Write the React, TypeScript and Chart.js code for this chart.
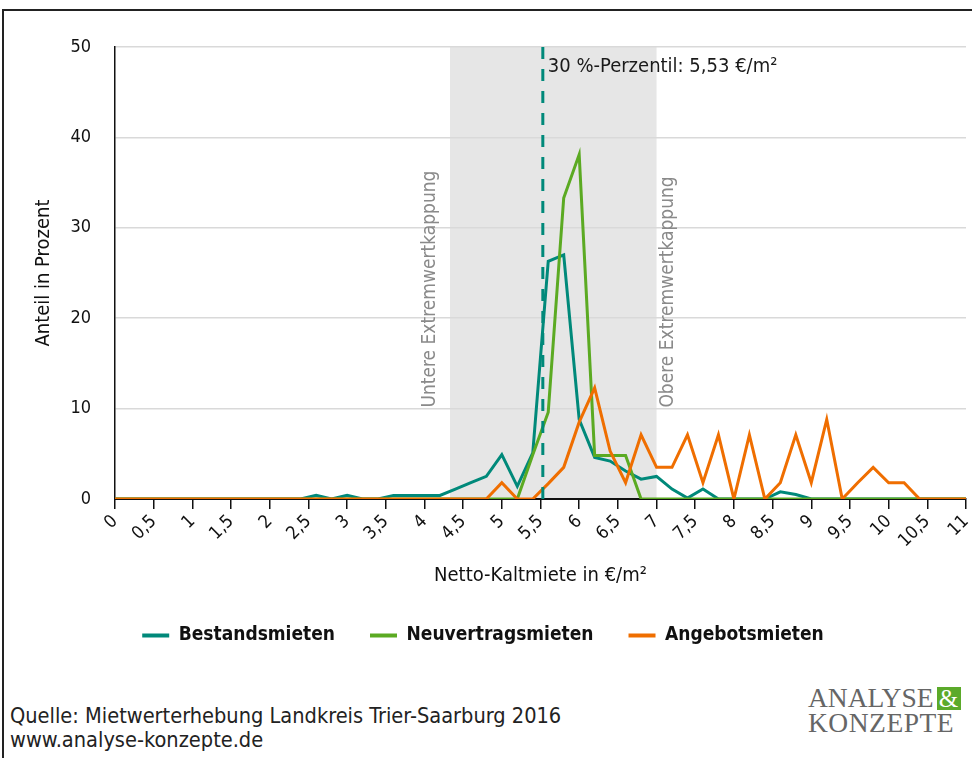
import React, { useEffect, useRef } from 'react';
import { Chart, registerables } from 'chart.js';

Chart.register(...registerables);

// ---- data ----
const rents = [
  0, 0.2, 0.4, 0.6, 0.8, 1, 1.2, 1.4, 1.6, 1.8, 2, 2.2, 2.4, 2.6, 2.8, 3, 3.2, 3.4, 3.6, 3.8,
  4, 4.2, 4.4, 4.6, 4.8, 5, 5.2, 5.4, 5.6, 5.8, 6, 6.2, 6.4, 6.6, 6.8, 7, 7.2, 7.4, 7.6, 7.8,
  8, 8.2, 8.4, 8.6, 8.8, 9, 9.2, 9.4, 9.6, 9.8, 10, 10.2, 10.4, 10.6, 10.8, 11,
];
const bestandsmieten = [
  0, 0, 0, 0, 0, 0, 0, 0, 0, 0, 0, 0, 0, 0.4, 0, 0.4, 0, 0, 0.4, 0.4,
  0.4, 0.4, 1.1, 1.8, 2.5, 4.9, 1.4, 5.1, 26.3, 27.0, 8.8, 4.6, 4.2, 3.1, 2.2, 2.5, 1.1, 0.1, 1.1, 0,
  0, 0, 0, 0.8, 0.5, 0, 0, 0, 0, 0, 0, 0, 0, 0, 0, 0,
];
const neuvertragsmieten = [
  0, 0, 0, 0, 0, 0, 0, 0, 0, 0, 0, 0, 0, 0, 0, 0, 0, 0, 0, 0,
  0, 0, 0, 0, 0, 0, 0, 4.9, 9.6, 33.3, 38.1, 4.8, 4.8, 4.8, 0, 0, 0, 0, 0, 0,
  0, 0, 0, 0, 0, 0, 0, 0, 0, 0, 0, 0, 0, 0, 0, 0,
];
const angebotsmieten = [
  0, 0, 0, 0, 0, 0, 0, 0, 0, 0, 0, 0, 0, 0, 0, 0, 0, 0, 0, 0,
  0, 0, 0, 0, 0, 1.8, 0, 0, 1.7, 3.5, 8.5, 12.3, 5.3, 1.8, 7.1, 3.5, 3.5, 7.1, 1.8, 7.1,
  0, 7.1, 0, 1.8, 7.1, 1.8, 8.8, 0, 1.8, 3.5, 1.8, 1.8, 0, 0, 0, 0,
];
const seriesNames = ['Bestandsmieten', 'Neuvertragsmieten', 'Angebotsmieten'];
const xTickValues = [0, 0.5, 1, 1.5, 2, 2.5, 3, 3.5, 4, 4.5, 5, 5.5, 6, 6.5, 7, 7.5, 8, 8.5, 9, 9.5, 10, 10.5, 11];
const xTickLabels = ['0', '0,5', '1', '1,5', '2', '2,5', '3', '3,5', '4', '4,5', '5', '5,5', '6', '6,5', '7', '7,5', '8', '8,5', '9', '9,5', '10', '10,5', '11'];
const yTickValues = [0, 10, 20, 30, 40, 50];
const percentile = 5.53;
const percentileLabel = '30 %-Perzentil: 5,53 €/m²';
const lowerCap = 4.33;
const upperCap = 7.0;
const lowerCapLabel = 'Untere Extremwertkappung';
const upperCapLabel = 'Obere Extremwertkappung';
const capLabelStart = 10;
const xTitle = 'Netto-Kaltmiete in €/m²';
const yTitle = 'Anteil in Prozent';
const sourceLines = ['Quelle: Mietwerterhebung Landkreis Trier-Saarburg 2016', 'www.analyse-konzepte.de'];

const TEAL = '#00897A';
const GREEN = '#5BAA22';
const ORANGE = '#EF6E00';
const FONT = '"DejaVu Sans Condensed", "DejaVu Sans", Verdana, sans-serif';

const annotationPlugin = {
  id: 'rentAnnotations',
  beforeDraw(chart: any) {
    const { ctx, chartArea, scales } = chart;
    const x0 = scales.x.getPixelForValue(lowerCap);
    const x1 = scales.x.getPixelForValue(upperCap);
    ctx.save();
    ctx.fillStyle = '#E6E6E6';
    ctx.fillRect(x0, chartArea.top, x1 - x0, chartArea.bottom - chartArea.top);
    ctx.restore();
  },
  afterDatasetsDraw(chart: any) {
    const { ctx, chartArea, scales } = chart;
    const xs = scales.x;
    const ys = scales.y;
    ctx.save();
    const px = xs.getPixelForValue(percentile);
    ctx.strokeStyle = TEAL;
    ctx.lineWidth = 3;
    ctx.setLineDash([12, 10]);
    ctx.beginPath();
    ctx.moveTo(px, chartArea.top);
    ctx.lineTo(px, chartArea.bottom);
    ctx.stroke();
    ctx.setLineDash([]);
    ctx.fillStyle = '#1a1a1a';
    ctx.font = '20px ' + FONT;
    ctx.textAlign = 'left';
    ctx.textBaseline = 'middle';
    ctx.fillText(percentileLabel, px + 5, chartArea.top + 20);
    ctx.fillStyle = '#8a8a8a';
    ctx.font = '19px ' + FONT;
    ctx.textBaseline = 'alphabetic';
    const yStart = ys.getPixelForValue(capLabelStart) - 1;
    ctx.save();
    ctx.translate(xs.getPixelForValue(lowerCap) - 15, yStart);
    ctx.rotate(-Math.PI / 2);
    ctx.fillText(lowerCapLabel, 0, 0);
    ctx.restore();
    ctx.save();
    ctx.translate(xs.getPixelForValue(upperCap) + 16, yStart);
    ctx.rotate(-Math.PI / 2);
    ctx.fillText(upperCapLabel, 0, 0);
    ctx.restore();
    ctx.restore();
  },
};

export default function App() {
  const canvasRef = useRef<HTMLCanvasElement | null>(null);

  useEffect(() => {
    document.body.style.overflow = 'hidden';
    const canvas = canvasRef.current;
    if (!canvas) return;
    Chart.defaults.font.family = FONT;
    Chart.defaults.color = '#1a1a1a';
    const mk = (arr: number[]) => arr.map((v, i) => ({ x: rents[i], y: v }));
    const colors = [TEAL, GREEN, ORANGE];
    const values = [bestandsmieten, neuvertragsmieten, angebotsmieten];
    const chart = new Chart(canvas, {
      type: 'line',
      data: {
        datasets: seriesNames.map((name, i) => ({
          label: name,
          data: mk(values[i]),
          borderColor: colors[i],
          backgroundColor: colors[i],
          borderWidth: 3,
          pointRadius: 0,
          tension: 0,
          borderJoinStyle: 'miter' as const,
          order: 3 - i,
        })),
      },
      options: {
        responsive: false,
        animation: false,
        devicePixelRatio: 1,
        layout: { padding: { top: 47, right: 6, left: 0, bottom: 9 } },
        plugins: {
          tooltip: { enabled: false },
          legend: {
            position: 'bottom',
            labels: {
              boxWidth: 27,
              boxHeight: 4,
              padding: 35,
              color: '#111',
              font: { size: 19, weight: 'bold', family: FONT },
              sort: (a: any, b: any) => a.datasetIndex - b.datasetIndex,
              generateLabels: (ch: any) =>
                (Chart.defaults.plugins.legend.labels.generateLabels as any)(ch).map((l: any) => ({ ...l, lineWidth: 0 })),
            },
          },
        },
        scales: {
          x: {
            type: 'linear',
            min: 0,
            max: 11,
            afterFit: (s: any) => { s.height = 92; s.paddingRight = 0; },
            afterBuildTicks: (s: any) => { s.ticks = xTickValues.map((v) => ({ value: v })); },
            ticks: {
              autoSkip: false,
              minRotation: 45,
              maxRotation: 45,
              padding: 2,
              color: '#111',
              font: { size: 18 },
              callback: (v: any) => xTickLabels[xTickValues.indexOf(Number(v))] ?? '',
            },
            grid: { drawOnChartArea: false, drawTicks: true, tickLength: 10, color: '#111', lineWidth: 1.5 },
            border: { color: '#111', width: 2 },
            title: { display: true, text: xTitle, color: '#111', font: { size: 20 }, padding: { top: 0, bottom: 3 } },
          },
          y: {
            type: 'linear',
            min: 0,
            max: 50,
            afterFit: (s: any) => { s.width = 115; },
            afterBuildTicks: (s: any) => { s.ticks = yTickValues.map((v) => ({ value: v })); },
            ticks: { padding: 24, color: '#111', font: { size: 18 } },
            grid: { drawTicks: false, color: '#D9D9D9', lineWidth: 1.5 },
            border: { color: '#111', width: 1.5 },
            title: { display: true, text: yTitle, color: '#111', font: { size: 20 }, padding: { top: 32, bottom: 0 } },
          },
        },
      },
      plugins: [annotationPlugin],
    });
    return () => chart.destroy();
  }, []);

  return (
    <div style={{ position: 'fixed', left: 0, top: 0, width: 972, height: 758, overflow: 'hidden', background: '#fff' }}>
      <div
        style={{
          position: 'absolute', left: 2, top: 9, width: 980, height: 760,
          borderLeft: '2px solid #222', borderTop: '2px solid #222',
        }}
      />
      <canvas ref={canvasRef} width={972} height={664} style={{ position: 'absolute', left: 0, top: 0, width: 972, height: 664 }} />
      <div style={{ position: 'absolute', left: 10, top: 704, fontFamily: FONT, fontSize: 21.6, lineHeight: '24px', color: '#222', whiteSpace: 'nowrap' }}>
        {sourceLines.map((l) => (<div key={l}>{l}</div>))}
      </div>
      <div style={{ position: 'absolute', left: 808, top: 685, fontFamily: '"Liberation Serif", serif', fontSize: 27.5, color: '#666', lineHeight: '25px', whiteSpace: 'nowrap' }}>
        <div>
          ANALYSE
          <span style={{ display: 'inline-block', marginLeft: 3, background: '#5BAA2A', color: '#fff', width: 24, height: 23, lineHeight: '23px', fontSize: 25, textAlign: 'center', verticalAlign: 'top', marginTop: 2 }}>&amp;</span>
        </div>
        <div style={{ letterSpacing: 0.5 }}>KONZEPTE</div>
      </div>
    </div>
  );
}
